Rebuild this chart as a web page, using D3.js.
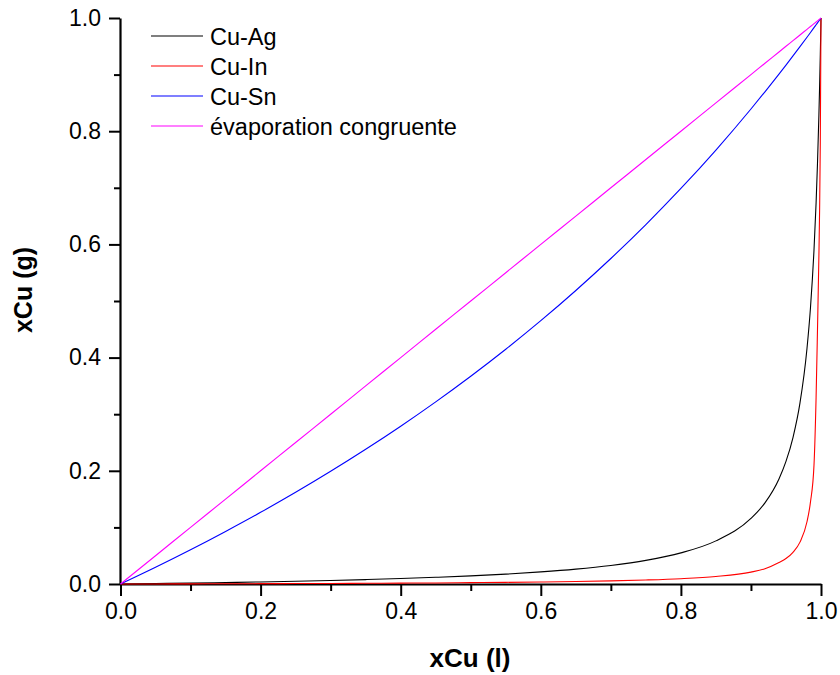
<!DOCTYPE html>
<html>
<head>
<meta charset="utf-8">
<script src="https://cdn.jsdelivr.net/npm/d3@7"></script>
<style>
  html, body { margin: 0; padding: 0; background: #fff; }
  svg { display: block; }
  text { font-family: "Liberation Sans", Arial, sans-serif; fill: #000; }
</style>
</head>
<body>
<svg id="chart" width="840" height="675"></svg>
<script>
// ---- data ----
const xLiquid = [0, 0.05, 0.1, 0.15, 0.2, 0.25, 0.3, 0.35, 0.4, 0.45, 0.5, 0.55, 0.6, 0.65, 0.7, 0.75, 0.8, 0.85, 0.9, 0.92, 0.94, 0.95, 0.96, 0.97, 0.98, 0.985, 0.99, 0.993, 0.995, 0.997, 0.998, 0.999, 1.0];
const cuAg = [0, 0.0008, 0.0016, 0.0026, 0.0036, 0.0048, 0.0062, 0.0078, 0.0096, 0.0118, 0.0143, 0.0175, 0.0214, 0.0263, 0.0328, 0.0418, 0.055, 0.0762, 0.1158, 0.1433, 0.1856, 0.2166, 0.2588, 0.3199, 0.4162, 0.4886, 0.5902, 0.6736, 0.7433, 0.8286, 0.8789, 0.9356, 1.0];
const cuIn = [0, 0.0001, 0.0003, 0.0004, 0.0006, 0.0008, 0.001, 0.0013, 0.0016, 0.0019, 0.0024, 0.0029, 0.0036, 0.0044, 0.0055, 0.0071, 0.0094, 0.0133, 0.021, 0.027, 0.038, 0.045, 0.056, 0.074, 0.11, 0.145, 0.21, 0.33, 0.45, 0.58, 0.66, 0.78, 1.0];
const cuSn = [0, 0.0296, 0.0605, 0.0929, 0.1266, 0.162, 0.1991, 0.238, 0.2788, 0.3218, 0.3671, 0.4148, 0.4652, 0.5186, 0.5751, 0.635, 0.6988, 0.7667, 0.8392, 0.8696, 0.9009, 0.9168, 0.933, 0.9494, 0.966, 0.9744, 0.9829, 0.988, 0.9914, 0.9948, 0.9966, 0.9983, 1.0];
const congruent = [0, 0.05, 0.1, 0.15, 0.2, 0.25, 0.3, 0.35, 0.4, 0.45, 0.5, 0.55, 0.6, 0.65, 0.7, 0.75, 0.8, 0.85, 0.9, 0.92, 0.94, 0.95, 0.96, 0.97, 0.98, 0.985, 0.99, 0.993, 0.995, 0.997, 0.998, 0.999, 1.0];
const seriesNames = ["Cu-Ag", "Cu-In", "Cu-Sn", "évaporation congruente"];
const seriesColors = ["#000000", "#ff0000", "#0000ff", "#ff00ff"];
const majorTicks = [0, 0.2, 0.4, 0.6, 0.8, 1.0];
const minorTicks = [0.1, 0.3, 0.5, 0.7, 0.9];
const xTitle = "xCu (l)";
const yTitle = "xCu (g)";

const svg = d3.select("#chart");
const x = d3.scaleLinear().domain([0, 1]).range([120.5, 821]);
const y = d3.scaleLinear().domain([0, 1]).range([584, 18]);

// axes
const gx = svg.append("g").attr("transform", "translate(0,584)");
gx.call(d3.axisBottom(x).tickValues(majorTicks).tickSize(12).tickSizeOuter(0).tickPadding(7).tickFormat(d3.format(".1f")));
const gxm = svg.append("g").attr("transform", "translate(0,584)");
gxm.call(d3.axisBottom(x).tickValues(minorTicks).tickSize(7).tickSizeOuter(0).tickFormat(""));
gxm.select(".domain").remove();

const gy = svg.append("g").attr("transform", "translate(120,0)");
gy.call(d3.axisLeft(y).tickValues(majorTicks).tickSize(11).tickSizeOuter(0).tickPadding(8).tickFormat(d3.format(".1f")));
const gym = svg.append("g").attr("transform", "translate(120,0)");
gym.call(d3.axisLeft(y).tickValues(minorTicks).tickSize(6).tickSizeOuter(0).tickFormat(""));
gym.select(".domain").remove();

svg.selectAll(".domain").attr("stroke", "#000").attr("stroke-width", 2.2);
svg.selectAll(".tick line").attr("stroke", "#000").attr("stroke-width", 2);
svg.selectAll(".tick text")
  .attr("font-family", "'Liberation Sans', Arial, sans-serif")
  .attr("font-size", 23).attr("fill", "#000");

// curves
const allSeries = [cuAg, cuIn, cuSn, congruent];
const line = d3.line()
  .x((d, i) => x(xLiquid[i]))
  .y(d => y(d))
  .curve(d3.curveMonotoneX);
allSeries.forEach((s, k) => {
  svg.append("path")
    .datum(s)
    .attr("fill", "none")
    .attr("stroke", seriesColors[k])
    .attr("stroke-width", 1.1)
    .attr("d", line);
});

// legend
const legend = svg.append("g");
seriesNames.forEach((name, k) => {
  const yy = 36 + k * 30;
  legend.append("line")
    .attr("x1", 151).attr("x2", 203)
    .attr("y1", yy).attr("y2", yy)
    .attr("stroke", seriesColors[k]).attr("stroke-width", 1.1);
  legend.append("text")
    .attr("x", 210).attr("y", yy + 8.5)
    .attr("font-size", 23.5)
    .text(name);
});

// axis titles
svg.append("text")
  .attr("x", 470).attr("y", 667)
  .attr("text-anchor", "middle")
  .attr("font-size", 26).attr("font-weight", "bold")
  .text(xTitle);
svg.append("text")
  .attr("transform", "translate(32,290) rotate(-90)")
  .attr("text-anchor", "middle")
  .attr("font-size", 25).attr("font-weight", "bold")
  .text(yTitle);
</script>
</body>
</html>
